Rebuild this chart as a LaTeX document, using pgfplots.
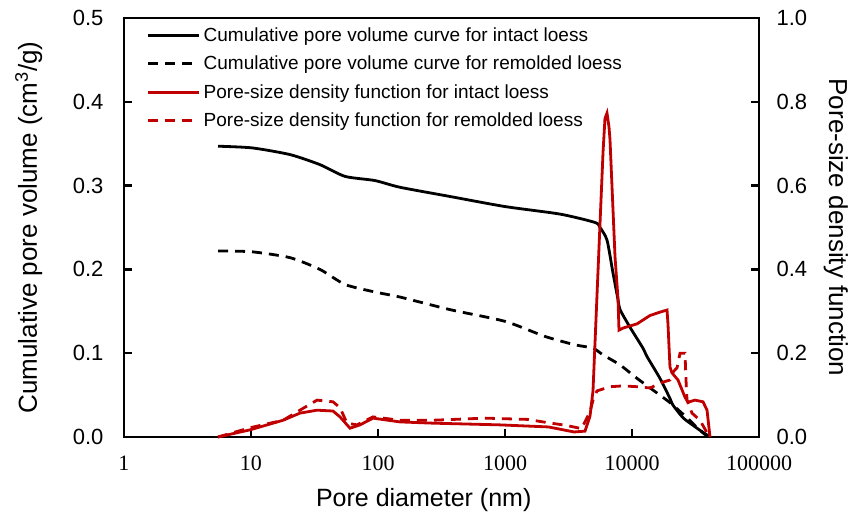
\documentclass[border=0pt]{standalone}
\usepackage{pgfplots}
\pgfplotsset{compat=1.18}
\usepackage{fontspec}
\setmainfont{Liberation Sans}
\newfontfamily\timesfont{Liberation Serif}
\definecolor{psdred}{HTML}{C00000}

\pgfplotsset{
  pvframe/.style={
    width=635pt, height=419pt, scale only axis,
    xmin=1, xmax=100000,
    xminorticks=false,
    line width=2.6pt,
    axis line style={line width=2.6pt, black},
    tick style={line width=2.4pt, black},
    major tick length=8pt,
    tick align=inside,
    clip=false,
  },
}
\tikzset{pvdash/.style={dash pattern=on 10pt off 7pt}}

\begin{document}
\begin{tikzpicture}[line width=2.6pt]
% ---- cumulative pore volume (left axis) ----
\begin{semilogxaxis}[pvframe,
  ymin=0, ymax=0.5,
  ytick={0,0.1,0.2,0.3,0.4,0.5},
  xtick={1,10,100,1000,10000,100000},
  xticklabels={1,10,100,1000,10000,100000},
  xtick pos=bottom, ytick pos=left,
  xticklabel style={font=\timesfont\fontsize{22}{22}\selectfont, yshift=-14pt},
  yticklabel style={font=\fontsize{22}{22}\selectfont, xshift=-16pt,
    /pgf/number format/.cd, fixed, fixed zerofill, precision=1, assume math mode=true},
  xlabel={Pore diameter (nm)},
  xlabel style={font=\fontsize{25}{25}\selectfont, at={(axis description cs:0.472,-0.150)}, anchor=center},
  ylabel={Cumulative pore volume (cm\textsuperscript{3}/g)},
  ylabel style={font=\fontsize{26}{26}\selectfont, at={(axis description cs:-0.150,0.5)}, anchor=center},
]
\addplot[black, line width=2.8pt, smooth, tension=0.4] coordinates {
(5.5,0.347) (10.2,0.345) (20.3,0.337) (34.9,0.325) (55.0,0.311) (94.7,0.306)
(149,0.298) (369,0.287) (1000,0.275) (2710,0.266) (5115,0.256) (5600,0.250)
(6355,0.235) (7080,0.196) (7760,0.164) (8050,0.152) (9640,0.131) (12200,0.106)
(13130,0.096) (16600,0.070) (19910,0.046) (21030,0.038) (25220,0.023)
(30200,0.014) (34300,0.008) (41130,0.0)
};
\addplot[black, line width=2.8pt, pvdash, smooth, tension=0.4] coordinates {
(5.5,0.222) (10.2,0.221) (20.3,0.214) (34.9,0.200) (55.0,0.182) (94.7,0.173)
(149,0.167) (369,0.152) (1000,0.138) (2065,0.120) (3556,0.110) (4930,0.106)
(5915,0.098) (8050,0.086) (10950,0.070) (14630,0.056) (19910,0.041)
(26620,0.024) (34300,0.008) (38980,0.001)
};
\end{semilogxaxis}
% ---- pore-size density function (right axis) ----
\begin{semilogxaxis}[pvframe,
  axis x line=none, axis y line*=right,
  ymin=0, ymax=1,
  ytick={0,0.2,0.4,0.6,0.8,1.0},
  yticklabel style={font=\fontsize{22}{22}\selectfont, xshift=13pt,
    /pgf/number format/.cd, fixed, fixed zerofill, precision=1, assume math mode=true},
  ylabel={Pore-size density function},
  ylabel style={font=\fontsize{26}{26}\selectfont, at={(axis description cs:1.121,0.5)}, anchor=center, rotate=180},
  legend image code/.code={\draw[#1] (0pt,0pt) -- (51pt,0pt);},
  legend cell align=left,
  legend style={at={(axis description cs:0.034,0.985)}, anchor=north west,
    draw=none, fill=none, inner sep=0pt,
    font=\fontsize{19}{19}\selectfont, row sep=9.2pt,
    nodes={inner xsep=3pt}},
]
\addlegendimage{black, line width=2.8pt}
\addlegendentry{Cumulative pore volume curve for intact loess}
\addlegendimage{black, line width=2.8pt, pvdash}
\addlegendentry{Cumulative pore volume curve for remolded loess}
\addplot[psdred, line width=2.8pt] coordinates {
(5.5,0) (9.8,0.017) (17.9,0.040) (24.3,0.057) (33.1,0.064) (44.2,0.062)
(50.2,0.048) (60.2,0.021) (72.2,0.029) (91.4,0.045) (149,0.036) (271,0.033)
(900,0.029) (2200,0.024) (3500,0.012) (4265,0.014) (4670,0.050) (4930,0.110)
(5600,0.510) (5915,0.680) (6125,0.760) (6355,0.773) (6590,0.740) (6710,0.710)
(7350,0.430) (7760,0.330) (7900,0.255) (8500,0.260) (10950,0.270) (13860,0.290)
(16600,0.298) (18870,0.303) (19200,0.270) (19910,0.167) (20650,0.153)
(23020,0.136) (26140,0.095) (27610,0.083) (31330,0.088) (36250,0.084)
(38980,0.064) (41130,0.0)
};
\addlegendentry{Pore-size density function for intact loess}
\addplot[psdred, line width=2.8pt, pvdash] coordinates {
(5.5,0) (9.8,0.022) (17.9,0.040) (24.3,0.064) (33.1,0.088) (44.2,0.084)
(50.2,0.070) (57.0,0.033) (68.4,0.029) (91.4,0.048) (149,0.040) (271,0.040)
(700,0.045) (1500,0.042) (2300,0.033) (3000,0.028) (4000,0.020) (4670,0.060)
(4930,0.088) (5300,0.110) (6710,0.120) (8500,0.122) (10950,0.120) (13860,0.117)
(17530,0.131) (19910,0.136) (21030,0.155) (22610,0.165) (23880,0.200)
(26140,0.200) (26620,0.136) (27110,0.088) (29670,0.057) (34300,0.040)
(38980,0.010)
};
\addlegendentry{Pore-size density function for remolded loess}
\end{semilogxaxis}
\path[use as bounding box] (-124pt,-85pt) rectangle (735pt,437pt);
\end{tikzpicture}
\end{document}
